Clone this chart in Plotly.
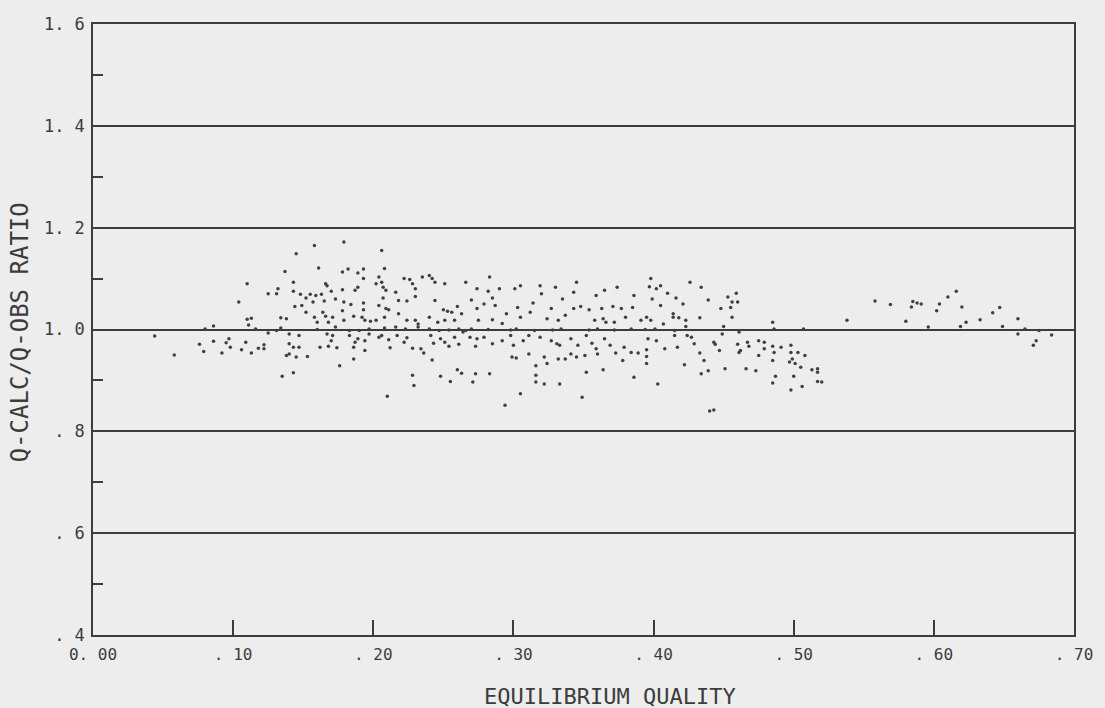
import plotly.graph_objects as go

# ---- data (equilibrium quality vs Q-calc/Q-obs ratio) ----
quality_a = [0.145,0.137,0.110,0.143,0.125,0.132,0.131,0.143,0.104,0.144,
             0.110,0.113,0.134,0.138,0.111,0.086,0.080,0.116,0.125,0.131,
             0.134,0.044,0.058,0.076,0.079,0.086,0.092,0.095,0.097,0.098,
             0.106,0.109,0.113,0.118,0.122,0.122,0.138,0.140,0.140,0.143,
             0.145,0.140,0.135,0.143]
ratio_a = [1.149,1.114,1.090,1.093,1.070,1.080,1.070,1.075,1.054,1.045,
           1.020,1.022,1.023,1.021,1.009,1.007,1.001,1.001,0.993,0.998,
           1.003,0.987,0.950,0.971,0.957,0.977,0.954,0.974,0.982,0.965,
           0.960,0.975,0.954,0.963,0.962,0.970,0.949,0.952,0.972,0.965,
           0.946,0.991,0.908,0.915]

quality_b = [0.158,0.179,0.206,0.161,0.178,0.182,0.189,0.193,0.208,0.166,
             0.167,0.170,0.178,0.187,0.189,0.193,0.204,0.206,0.207,0.209,
             0.202,0.222,0.226,0.228,0.230,0.235,0.240,0.242,0.244,0.251,
             0.266,0.148,0.152,0.155,0.159,0.163,0.157,0.149,0.165,0.173,
             0.179,0.184,0.193,0.193,0.204,0.207,0.209,0.211,0.216,0.218,
             0.224,0.230,0.244,0.250,0.253,0.256,0.260,0.263,0.152,0.158,
             0.164,0.166,0.171,0.160,0.168,0.178,0.179,0.186,0.192,0.194,
             0.198,0.202,0.208,0.218,0.224,0.230,0.232,0.240,0.246,0.251,
             0.258,0.160,0.173,0.183,0.190,0.197,0.208,0.216,0.223,0.232,
             0.240,0.247,0.254,0.261,0.266,0.147,0.147,0.167,0.171,0.170,
             0.162,0.168,0.174,0.183,0.187,0.186,0.189,0.194,0.194,0.186,
             0.197,0.204,0.206,0.211,0.212,0.217,0.222,0.224,0.228,0.234,
             0.236,0.241,0.243,0.248,0.251,0.254,0.258,0.261,0.264,0.242,
             0.153,0.176,0.228,0.229,0.248,0.255,0.260,0.263,0.210]
ratio_b = [1.165,1.172,1.155,1.121,1.113,1.119,1.111,1.119,1.120,1.090,
           1.086,1.075,1.078,1.077,1.083,1.100,1.103,1.093,1.083,1.077,
           1.090,1.100,1.098,1.090,1.080,1.103,1.106,1.100,1.093,1.090,
           1.093,1.069,1.062,1.069,1.067,1.069,1.054,1.047,1.056,1.060,
           1.054,1.049,1.052,1.039,1.047,1.062,1.041,1.039,1.073,1.057,
           1.056,1.065,1.057,1.039,1.036,1.034,1.045,1.031,1.034,1.024,
           1.034,1.026,1.024,1.014,1.014,1.037,1.018,1.026,1.024,1.018,
           1.016,1.018,1.024,1.031,1.018,1.018,1.011,1.024,1.014,1.018,
           1.018,1.000,1.005,0.998,0.998,1.001,1.003,1.005,1.001,1.005,
           1.001,0.998,0.999,1.001,0.998,0.988,0.965,0.991,0.988,0.978,
           0.965,0.967,0.964,0.988,0.975,0.965,0.982,0.978,0.959,0.942,
           0.991,0.985,0.988,0.980,0.964,0.988,0.975,0.984,0.963,0.962,
           0.954,0.988,0.973,0.982,0.975,0.967,0.985,0.971,0.995,0.940,
           0.947,0.929,0.910,0.890,0.908,0.898,0.921,0.914,0.869]

quality_c = [0.283,0.274,0.282,0.290,0.301,0.305,0.319,0.320,0.330,0.345,
             0.343,0.365,0.374,0.359,0.386,0.270,0.285,0.287,0.279,0.274,
             0.295,0.303,0.314,0.312,0.327,0.337,0.335,0.343,0.348,0.354,
             0.363,0.371,0.377,0.385,0.380,0.275,0.285,0.292,0.305,0.324,
             0.332,0.358,0.364,0.366,0.372,0.270,0.282,0.298,0.302,0.315,
             0.328,0.334,0.354,0.360,0.372,0.384,0.269,0.274,0.279,0.273,
             0.285,0.292,0.298,0.300,0.307,0.311,0.319,0.327,0.331,0.333,
             0.341,0.346,0.352,0.356,0.359,0.365,0.369,0.373,0.378,0.379,
             0.384,0.299,0.302,0.311,0.316,0.322,0.324,0.332,0.337,0.341,
             0.345,0.351,0.360,0.273,0.271,0.283,0.316,0.316,0.322,0.333,
             0.352,0.364,0.386,0.305,0.349,0.294]
ratio_c = [1.103,1.080,1.075,1.080,1.080,1.086,1.086,1.070,1.083,1.093,
           1.073,1.077,1.083,1.067,1.067,1.058,1.062,1.047,1.050,1.041,
           1.031,1.043,1.052,1.034,1.041,1.028,1.060,1.041,1.045,1.039,
           1.041,1.045,1.041,1.043,1.024,1.018,1.019,1.012,1.024,1.021,
           1.018,1.018,1.021,1.014,1.014,1.001,1.000,0.999,1.001,0.998,
           0.999,1.001,0.999,1.001,0.999,1.001,0.985,0.982,0.985,0.967,
           0.972,0.978,0.988,0.969,0.978,0.988,0.985,0.978,0.972,0.969,
           0.982,0.969,0.988,0.973,0.962,0.982,0.969,0.954,0.939,0.965,
           0.955,0.946,0.944,0.952,0.929,0.946,0.933,0.942,0.942,0.952,
           0.946,0.949,0.952,0.913,0.897,0.913,0.910,0.897,0.893,0.893,
           0.916,0.921,0.906,0.874,0.867,0.851]

quality_d = [0.398,0.397,0.402,0.405,0.426,0.410,0.434,0.399,0.405,0.416,
             0.421,0.439,0.453,0.459,0.456,0.460,0.448,0.455,0.414,0.414,
             0.418,0.433,0.456,0.391,0.395,0.398,0.423,0.407,0.485,0.394,
             0.401,0.415,0.423,0.450,0.486,0.507,0.396,0.402,0.415,0.424,
             0.427,0.429,0.417,0.408,0.395,0.389,0.395,0.395,0.443,0.444,
             0.447,0.449,0.461,0.433,0.436,0.422,0.439,0.434,0.451,0.460,
             0.462,0.467,0.468,0.461,0.466,0.473,0.475,0.479,0.475,0.479,
             0.485,0.486,0.491,0.485,0.498,0.498,0.503,0.497,0.499,0.501,
             0.505,0.508,0.487,0.485,0.500,0.498,0.506,0.403,0.440,0.443]
ratio_d = [1.100,1.084,1.080,1.086,1.093,1.071,1.083,1.060,1.047,1.062,
           1.050,1.058,1.064,1.071,1.054,1.054,1.041,1.043,1.031,1.024,
           1.023,1.023,1.024,1.018,1.024,1.018,1.018,1.011,1.014,1.000,
           1.001,0.998,1.006,1.006,1.001,1.001,0.982,0.978,0.988,0.988,
           0.985,0.972,0.965,0.962,0.960,0.954,0.947,0.933,0.975,0.971,
           0.959,0.991,0.995,0.954,0.939,0.931,0.919,0.913,0.923,0.971,
           0.959,0.975,0.967,0.955,0.923,0.919,0.978,0.975,0.949,0.962,
           0.967,0.955,0.965,0.939,0.969,0.955,0.955,0.936,0.942,0.933,
           0.926,0.949,0.908,0.895,0.908,0.881,0.888,0.893,0.840,0.842]

quality_e = [0.513,0.517,0.517,0.517,0.520,0.538,0.558,0.569,0.580,0.584,
             0.585,0.588,0.591,0.596,0.602,0.604,0.610,0.616,0.620,0.619,
             0.623,0.633,0.642,0.647,0.649,0.660,0.660,0.665,0.673,0.671,
             0.675,0.684]
ratio_e = [0.921,0.923,0.916,0.898,0.897,1.018,1.056,1.049,1.016,1.044,
           1.055,1.052,1.050,1.005,1.037,1.050,1.064,1.075,1.044,1.006,
           1.014,1.019,1.033,1.043,1.006,1.021,0.991,1.001,0.978,0.969,
           0.998,0.989]

x_tick_vals = [0.0, 0.1, 0.2, 0.3, 0.4, 0.5, 0.6, 0.7]
x_tick_text = ["0. 00", ". 10", ". 20", ". 30", ". 40", ". 50", ". 60", ". 70"]
y_tick_vals = [0.4, 0.6, 0.8, 1.0, 1.2, 1.4, 1.6]
y_tick_text = [". 4", ". 6", ". 8", "1. 0", "1. 2", "1. 4", "1. 6"]
y_minor_vals = [0.5, 0.7, 0.9, 1.1, 1.3, 1.5]

quality = quality_a + quality_b + quality_c + quality_d + quality_e
ratio = ratio_a + ratio_b + ratio_c + ratio_d + ratio_e

bg = "#ededed"
ink = "#3c3c3c"
font_family = "DejaVu Sans Mono"

fig = go.Figure()
fig.add_trace(go.Scatter(
    x=quality, y=ratio, mode="markers",
    marker=dict(size=3.5, color="#404040", line=dict(width=0)),
    hoverinfo="x+y",
))

fig.update_layout(
    width=1105, height=708,
    margin=dict(l=93, r=27, t=24, b=73),
    paper_bgcolor=bg, plot_bgcolor=bg,
    showlegend=False,
    font=dict(family=font_family, color=ink),
    xaxis=dict(
        range=[0, 0.7], tickvals=x_tick_vals, ticktext=x_tick_text,
        ticks="inside", ticklen=15, tickwidth=1.5, tickcolor=ink,
        showline=True, linecolor=ink, linewidth=1.5, mirror=True,
        showgrid=False, zeroline=False, ticklabelstandoff=4,
        tickfont=dict(size=16, color=ink, family=font_family),
    ),
    yaxis=dict(
        range=[0.4, 1.6], tickvals=y_tick_vals, ticktext=y_tick_text,
        ticks="inside", ticklen=10, tickwidth=1.5, tickcolor=ink,
        showline=True, linecolor=ink, linewidth=1.5, mirror=True,
        showgrid=True, gridcolor=ink, gridwidth=1.5, zeroline=False,
        ticklabelstandoff=3,
        tickfont=dict(size=17, color=ink, family=font_family),
        minor=dict(tickvals=y_minor_vals, ticks="inside", ticklen=10,
                   tickwidth=1.5, tickcolor=ink, showgrid=False),
    ),
    annotations=[
        dict(text="EQUILIBRIUM QUALITY", xref="paper", yref="paper",
             x=0.527, y=-0.101, xanchor="center", yanchor="middle",
             showarrow=False, font=dict(size=22, color=ink, family=font_family)),
        dict(text="Q-CALC/Q-OBS RATIO", xref="paper", yref="paper",
             x=-0.074, y=0.496, xanchor="center", yanchor="middle",
             textangle=-90, showarrow=False,
             font=dict(size=24, color=ink, family=font_family)),
    ],
)

fig.write_html(
    "out.html",
    config={"displayModeBar": False},
    post_script="document.body.style.margin='0';document.body.style.background='#ededed';",
)
